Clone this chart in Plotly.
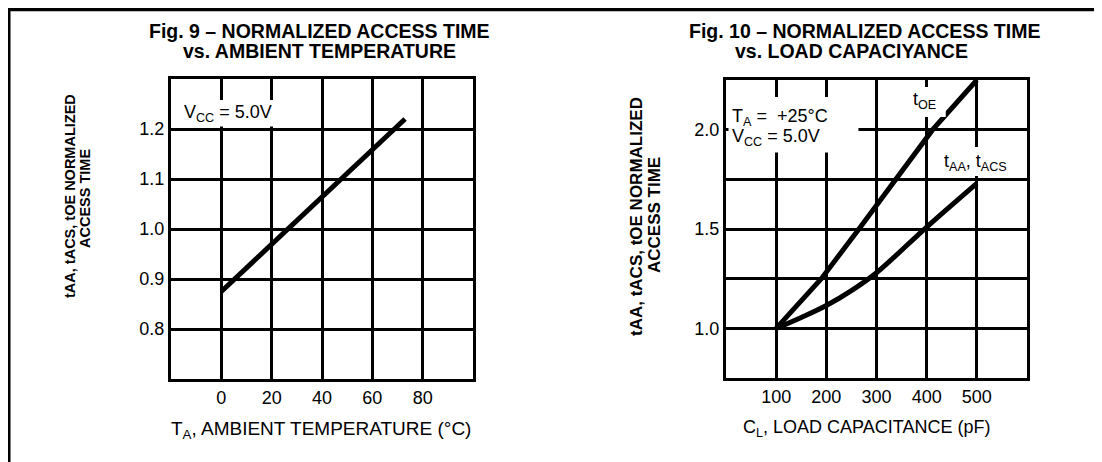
import plotly.graph_objects as go

# ---------------- data ----------------
# Fig. 9 : normalized access time vs ambient temperature
temp_c = [0, 73]
t_norm_temp = [0.875, 1.22]
x9_ticks = [0, 20, 40, 60, 80]
x9_text = ["0", "20", "40", "60", "80"]
y9_ticks = [0.8, 0.9, 1.0, 1.1, 1.2]
y9_text = ["0.8", "0.9", "1.0", "1.1", "1.2"]

# Fig. 10 : normalized access time vs load capacitance
cap_oe = [100, 190, 265, 340, 412, 500]
t_oe = [1.0, 1.25, 1.5, 1.75, 2.0, 2.25]
cap_aa = [100, 150, 200, 250, 300, 400, 500]
t_aa = [1.0, 1.055, 1.115, 1.19, 1.28, 1.51, 1.73]
x10_ticks = [100, 200, 300, 400, 500]
x10_text = ["100", "200", "300", "400", "500"]
y10_ticks = [1.0, 1.5, 2.0]
y10_text = ["1.0", "1.5", "2.0"]
y10_minor = [1.25, 1.75]

# ---------------- layout helpers ----------------
OFF = 8  # browser body margin
W, H = 1102 - OFF, 462 - OFF
FONT = "Liberation Sans, Arial, Helvetica, sans-serif"


def px(x):
    return (x - OFF) / W


def py(y):
    return 1 - (y - OFF) / H


axis_common = dict(
    showline=True, linecolor="black", linewidth=3, mirror=True,
    ticks="", tickfont=dict(family=FONT, size=18, color="black"),
    fixedrange=True, automargin=False, zeroline=False,
)

fig = go.Figure()
line_style = dict(color="black", width=5)
fig.add_trace(go.Scatter(x=temp_c, y=t_norm_temp, mode="lines", line=line_style,
                         xaxis="x", yaxis="y", showlegend=False, hoverinfo="skip"))
fig.add_trace(go.Scatter(x=cap_oe, y=t_oe, mode="lines", line=line_style,
                         xaxis="x2", yaxis="y2", showlegend=False, hoverinfo="skip"))
fig.add_trace(go.Scatter(x=cap_aa, y=t_aa, mode="lines", line=dict(line_style, shape="spline"),
                         xaxis="x2", yaxis="y2", showlegend=False, hoverinfo="skip"))

fig.update_layout(
    template="none",
    width=W, height=H, margin=dict(l=0, r=0, t=0, b=0),
    paper_bgcolor="white", plot_bgcolor="white", showlegend=False,
    font=dict(family=FONT, color="black"),
    xaxis=dict(domain=[px(171), px(473)], range=[-20, 100], tickvals=x9_ticks, ticktext=x9_text,
               anchor="y", **axis_common),
    yaxis=dict(domain=[py(379), py(79)], range=[0.7, 1.3], tickvals=y9_ticks, ticktext=y9_text,
               anchor="x", **axis_common),
    xaxis2=dict(domain=[px(726), px(1027)], range=[0, 600], tickvals=x10_ticks, ticktext=x10_text,
                anchor="y2", **axis_common),
    yaxis2=dict(domain=[py(378), py(80)], range=[0.75, 2.25], tickvals=y10_ticks, ticktext=y10_text,
                anchor="x2",
                minor=dict(tickmode="array", tickvals=y10_minor, showgrid=True,
                           gridcolor="black", gridwidth=2.5, ticks=""),
                **axis_common),
)
fig.update_xaxes(showgrid=True, gridcolor="black", gridwidth=2.5)
fig.update_yaxes(showgrid=True, gridcolor="black", gridwidth=2.5)

# white masks behind the in-plot labels (grid interrupted as in the original)
masks = [
    dict(xref="x", yref="y", x0=-18, x1=25.5, y0=1.205, y1=1.258),
    dict(xref="x2", yref="y2", x0=5, x1=264, y0=1.885, y1=2.165),
    dict(xref="x2", yref="y2", x0=360, x1=438, y0=2.064, y1=2.215),
    dict(xref="x2", yref="y2", x0=412, x1=592, y0=1.767, y1=1.913),
]
for m in masks:
    fig.add_shape(type="rect", fillcolor="white", line=dict(width=0), layer="above", **m)

# outer page frame
fig.add_shape(type="line", xref="paper", yref="paper", x0=px(9), x1=px(9), y0=0, y1=1,
              line=dict(color="black", width=3))
fig.add_shape(type="line", xref="paper", yref="paper", x0=px(9), x1=1, y0=py(9.5), y1=py(9.5),
              line=dict(color="black", width=3.5))

ann = []
# titles
title_font = dict(family=FONT, size=19.5, color="black", weight="bold")
ann += [
    dict(text="Fig. 9 – NORMALIZED ACCESS TIME", x=px(320), y=py(31), font=title_font),
    dict(text="vs. AMBIENT TEMPERATURE", x=px(319), y=py(51), font=title_font),
    dict(text="Fig. 10 – NORMALIZED ACCESS TIME", x=px(864), y=py(31), font=title_font),
    dict(text="vs. LOAD CAPACIYANCE", x=px(851), y=py(51), font=title_font),
]
# y-axis titles (rotated)
ann += [
    dict(text="tAA, tACS, tOE NORMALIZED", x=px(70), y=py(196), textangle=-90,
         font=dict(family=FONT, size=14.5, color="black", weight="bold")),
    dict(text="ACCESS TIME", x=px(85), y=py(199), textangle=-90,
         font=dict(family=FONT, size=14.5, color="black", weight="bold")),
    dict(text="tAA, tACS, tOE NORMALIZED", x=px(636), y=py(217), textangle=-90,
         font=dict(family=FONT, size=17, color="black", weight="bold")),
    dict(text="ACCESS TIME", x=px(654), y=py(215), textangle=-90,
         font=dict(family=FONT, size=17, color="black", weight="bold")),
]
# x-axis titles
ann += [
    dict(text="T<sub>A</sub>, AMBIENT TEMPERATURE (°C)", x=px(321), y=py(430),
         font=dict(family=FONT, size=19, color="black")),
    dict(text="C<sub>L</sub>, LOAD CAPACITANCE (pF)", x=px(866), y=py(428),
         font=dict(family=FONT, size=18, color="black")),
]
for a in ann:
    a.update(xref="paper", yref="paper", xanchor="center", yanchor="middle", showarrow=False)

# in-plot labels
lab_font = dict(family=FONT, size=18, color="black")
inplot = [
    dict(text="V<sub>CC</sub> = 5.0V", xref="x", yref="y", x=-15.5, y=1.232, xanchor="left"),
    dict(text="T<sub>A</sub> =  +25°C", xref="x2", yref="y2", x=8, y=2.06, xanchor="left"),
    dict(text="V<sub>CC</sub> = 5.0V", xref="x2", yref="y2", x=8, y=1.96, xanchor="left"),
    dict(text="t<sub>OE</sub>", xref="x2", yref="y2", x=396, y=2.145, xanchor="center"),
    dict(text="t<sub>AA</sub>, t<sub>ACS</sub>", xref="x2", yref="y2", x=498, y=1.835, xanchor="center"),
]
for a in inplot:
    a.update(yanchor="middle", showarrow=False, font=lab_font)
ann += inplot

fig.update_layout(annotations=ann)
fig.write_html("out.html")
